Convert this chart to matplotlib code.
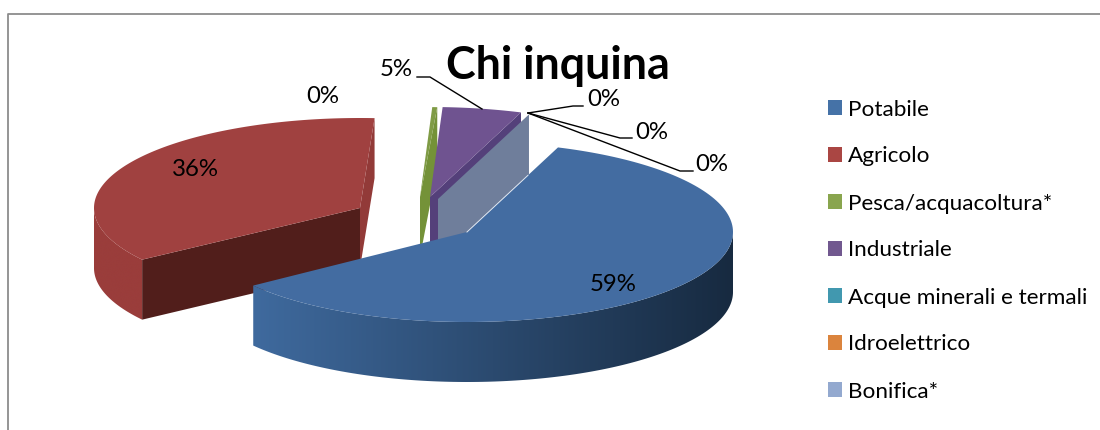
import numpy as np
import matplotlib
matplotlib.use("Agg")
import matplotlib.pyplot as plt
from matplotlib.patches import Rectangle, Polygon
from matplotlib.colors import LinearSegmentedColormap

# ---- data ----
categories = ["Potabile", "Agricolo", "Pesca/acquacoltura*", "Industriale",
              "Acque minerali e termali", "Idroelettrico", "Bonifica*"]
values = [59.3, 35.6, 0.3, 4.8, 0.0, 0.0, 0.0]
legend_colors = ["#4572A7", "#AA4643", "#89A54E", "#71588F", "#4198AF", "#DB843D", "#93A9CF"]
top_colors = ["#436CA1", "#A04140", "#7F9B45", "#6F5390", "#4198AF", "#DB843D", "#93A9CF"]
title = "Chi inquina"

# ---- layout (pixels of the 1100x430 canvas) ----
RX, RY, DEPTH = 266, 90, 60
START = 70.0
apex = {0: (467, 232), 1: (360, 208), 2: (420, 197), 3: (430, 197), 6: (438, 199)}
turn = {1: -1.5, 2: -1.0}  # small perspective correction of exploded slices
FONT = "Lato"

fig = plt.figure(figsize=(11, 4.3), dpi=100, facecolor="white")
ax = fig.add_axes([0, 0, 1, 1])

# angular extents, clockwise from START
fracs = np.array(values) / sum(values) * 360
ends = START - np.cumsum(fracs)
starts = ends + fracs
for k, d in turn.items():
    starts[k] += d
    ends[k] += d


def pt(i, deg, r=1.0):
    a = np.radians(deg)
    cx, cy = apex[i]
    return cx + r * RX * np.cos(a), cy - r * RY * np.sin(a)


def arc(i, a0, a1, n=160):
    a = np.radians(np.linspace(a0, a1, n))
    cx, cy = apex[i]
    return cx + RX * np.cos(a), cy - RY * np.sin(a)


def top_face(i, color, z):
    x, y = arc(i, starts[i], ends[i])
    ax.fill(np.r_[apex[i][0], x], np.r_[apex[i][1], y], color=color, lw=0, zorder=z)


def cut_face(i, deg, color, z):
    x0, y0 = apex[i]
    x1, y1 = pt(i, deg)
    ax.fill([x0, x1, x1, x0], [y0, y1, y1 + DEPTH, y0 + DEPTH], color=color, lw=0, zorder=z)


def rim(i, a0, a1, c0, c1, z):
    x, y = arc(i, a0, a1)
    poly = Polygon(np.c_[np.r_[x, x[::-1]], np.r_[y, y[::-1] + DEPTH]], closed=True,
                   transform=ax.transData, facecolor="none", edgecolor="none")
    ax.add_patch(poly)
    cmap = LinearSegmentedColormap.from_list("rim", [c0, c1])
    im = ax.imshow(np.linspace(0, 1, 256)[None, :], cmap=cmap, aspect="auto", zorder=z,
                   extent=(x.min(), x.max(), y.max() + DEPTH, y.min()), interpolation="bilinear")
    im.set_clip_path(poly)


# Agricolo
cut_face(1, ends[1], "#923A38", 1)
rim(1, 180, starts[1] + 360, "#9A3D3B", "#9A3D3B", 1)
cut_face(1, starts[1], "#511E1B", 2)
top_face(1, top_colors[1], 3)

# Pesca/acquacoltura
cut_face(2, ends[2], "#749238", 4)
top_face(2, top_colors[2], 5)

# Industriale
cut_face(3, ends[3], "#54407A", 6)
top_face(3, top_colors[3], 7)

# Bonifica (zero-size slice: only its cut face shows)
cut_face(6, ends[6], "#6F7E9B", 8)

# Potabile
rim(0, ends[0], 0, "#3F6A9E", "#172A40", 9)
top_face(0, top_colors[0], 10)
bx, by = pt(0, starts[0], 0.67)
ax.plot([apex[0][0], bx], [apex[0][1], by], color="#dfe6f0", lw=0.7, zorder=11)

# border of the chart area (top and left only, cut off by the picture)
ax.plot([7.5, 7.5, 1100], [430, 13.5, 13.5], color="#8C8C8C", lw=1.3, zorder=0)

# percent labels
lab = [f"{v:.0f}%" for v in values]
tk = dict(fontsize=17.3, family=FONT, color="black", ha="center", va="center", zorder=20)
ax.text(613, 284.5, lab[0], **tk)
ax.text(195, 169.5, lab[1], **tk)
ax.text(323, 96.5, lab[2], **tk)
ax.text(396, 70, lab[3], **tk)
ax.text(604, 99.5, lab[4], **tk)
ax.text(652, 132.5, lab[5], **tk)
ax.text(712, 164.5, lab[6], **tk)

# leader lines
for xs, ys in [([482, 430, 417], [109, 77, 77]),
               ([528, 573, 583], [113, 106, 106]),
               ([528, 620, 632], [113, 138, 138]),
               ([528, 680, 693], [113, 171, 171])]:
    ax.plot(xs, ys, color="black", lw=1.0, zorder=19)

ax.text(558, 66, title, fontsize=32.3, fontweight="bold", family=FONT, ha="center", va="center", zorder=21)

# legend
handles = [Rectangle((0, 0), 1, 1, facecolor=c, edgecolor="none") for c in legend_colors]
leg = ax.legend(handles, categories, loc="center left", bbox_to_anchor=(828 / 1100, 1 - 250.5 / 430),
                bbox_transform=fig.transFigure, frameon=False, borderpad=0, borderaxespad=0,
                prop={"family": FONT, "size": 16.2}, handlelength=0.62, handleheight=0.62,
                handletextpad=0.27, labelspacing=1.2, labelcolor="black")
leg.set_zorder(22)

ax.set_xlim(0, 1100)
ax.set_ylim(430, 0)
ax.axis("off")

fig.savefig("out.png", dpi=100)
